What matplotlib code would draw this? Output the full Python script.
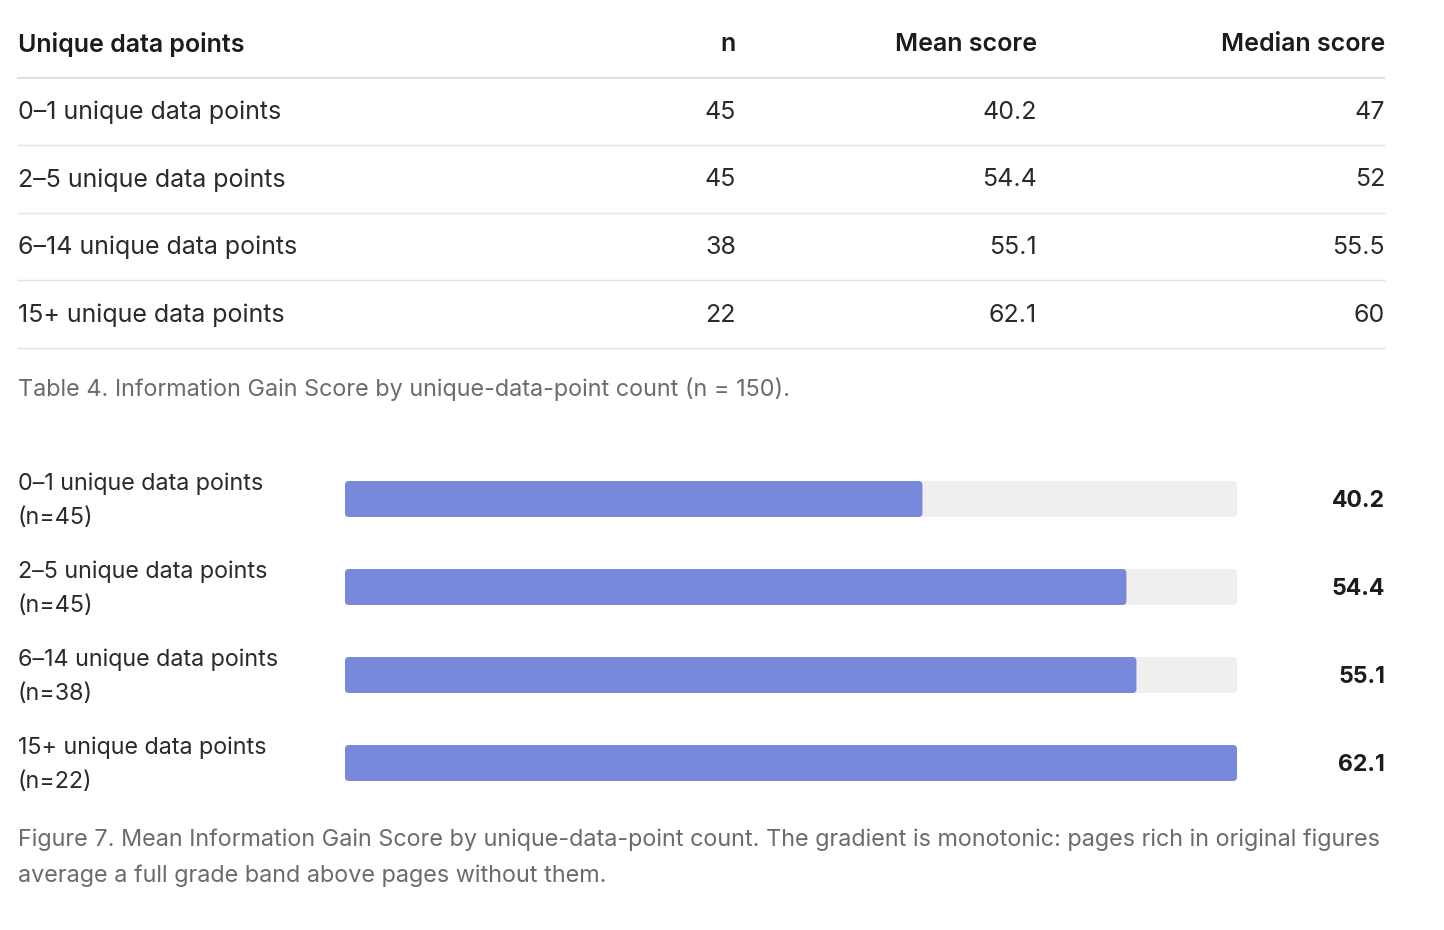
import matplotlib
matplotlib.use("Agg")
import matplotlib.pyplot as plt
from matplotlib.patches import FancyBboxPatch

plt.rcParams['font.family'] = ['Inter', 'DejaVu Sans']

# ---- data ----
categories = ["0–1 unique data points", "2–5 unique data points",
              "6–14 unique data points", "15+ unique data points"]
n_counts = [45, 45, 38, 22]
mean_scores = [40.2, 54.4, 55.1, 62.1]
median_scores = ["47", "52", "55.5", "60"]
table_headers = ["Unique data points", "n", "Mean score", "Median score"]
table_caption = "Table 4. Information Gain Score by unique-data-point count (n = 150)."
figure_caption = ("Figure 7. Mean Information Gain Score by unique-data-point count. The gradient is monotonic: pages rich in original figures\n"
                  "average a full grade band above pages without them.")

W, H = 1444, 930
fig = plt.figure(figsize=(W / 100, H / 100), dpi=100)
fig.patch.set_facecolor('white')

# overlay axes in pixel coordinates for table & text
ov = fig.add_axes([0, 0, 1, 1])
ov.set_xlim(0, W)
ov.set_ylim(H, 0)
ov.axis('off')

DARK = '#1c1c1c'
BODY = '#2a2a2a'
GRAY = '#6b6b6b'
LINE = '#e3e3e3'
BAR = '#7889db'
TRACK = '#f0efed'

FS_TABLE = 18
FS_HDR = 18
FS_CAP = 16.85
FS_LBL = 16.8
FS_VAL = 16.6

left, right = 17, 1385
col_right = [None, 736, 1037, 1385]
hdr_y = 44.5
ov.text(left + 1, hdr_y, table_headers[0], ha='left', va='center', fontsize=FS_HDR,
        fontweight='semibold', color=DARK)
for j in range(1, 4):
    ov.text(col_right[j], hdr_y, table_headers[j], ha='right', va='center',
            fontsize=FS_HDR, fontweight='semibold', color=DARK)
ov.plot([left, right], [78, 78], color='#d9d9d9', lw=1.2, solid_capstyle='butt')

row_h = 67.5
for i, cat in enumerate(categories):
    y = 112.5 + i * row_h
    ov.text(left + 1, y, cat, ha='left', va='center', fontsize=FS_TABLE, color=BODY)
    ov.text(col_right[1], y, str(n_counts[i]), ha='right', va='center', fontsize=FS_TABLE, color=BODY)
    ov.text(col_right[2], y, f"{mean_scores[i]:.1f}", ha='right', va='center', fontsize=FS_TABLE, color=BODY)
    ov.text(col_right[3], y, median_scores[i], ha='right', va='center', fontsize=FS_TABLE, color=BODY)
    ly = 78 + (i + 1) * row_h
    ov.plot([left, right], [ly, ly], color=LINE, lw=1, solid_capstyle='butt')

ov.text(left + 1, 389, table_caption, ha='left', va='center', fontsize=FS_CAP, color=GRAY)

# ---- bar chart ----
bx0, bx1 = 345, 1237
by0, by1 = 455, 807
ax = fig.add_axes([bx0 / W, 1 - by1 / H, (bx1 - bx0) / W, (by1 - by0) / H])
ax.axis('off')
vmax = max(mean_scores)
ax.set_xlim(0, vmax)
ax.set_ylim(len(categories) - 0.5, -0.5)

bar_h = 36 / 88
px_x = vmax / (bx1 - bx0)        # data units per px (x)
px_y = len(categories) / (by1 - by0)  # data units per px (y)
r = 4 * px_x
aspect = px_y / px_x
for i, v in enumerate(mean_scores):
    ax.add_patch(FancyBboxPatch((0, i - bar_h / 2), vmax, bar_h,
                                boxstyle=f"round,pad=0,rounding_size={r}",
                                mutation_aspect=aspect, fc=TRACK, ec='none'))
    ax.add_patch(FancyBboxPatch((0, i - bar_h / 2), v, bar_h,
                                boxstyle=f"round,pad=0,rounding_size={r}",
                                mutation_aspect=aspect, fc=BAR, ec='none'))
    yc = 500.5 + i * 88
    ov.text(left + 1, yc, f"{categories[i]}\n(n={n_counts[i]})", ha='left', va='center',
            fontsize=FS_LBL, color=BODY, linespacing=1.72)
    ov.text(1385, yc, f"{v:.1f}", ha='right', va='center', fontsize=FS_VAL,
            fontweight='bold', color=DARK)

ov.text(left + 1, 858, figure_caption, ha='left', va='center', fontsize=FS_CAP,
        color=GRAY, linespacing=1.76)

fig.savefig('out.png', dpi=100, facecolor='white')
